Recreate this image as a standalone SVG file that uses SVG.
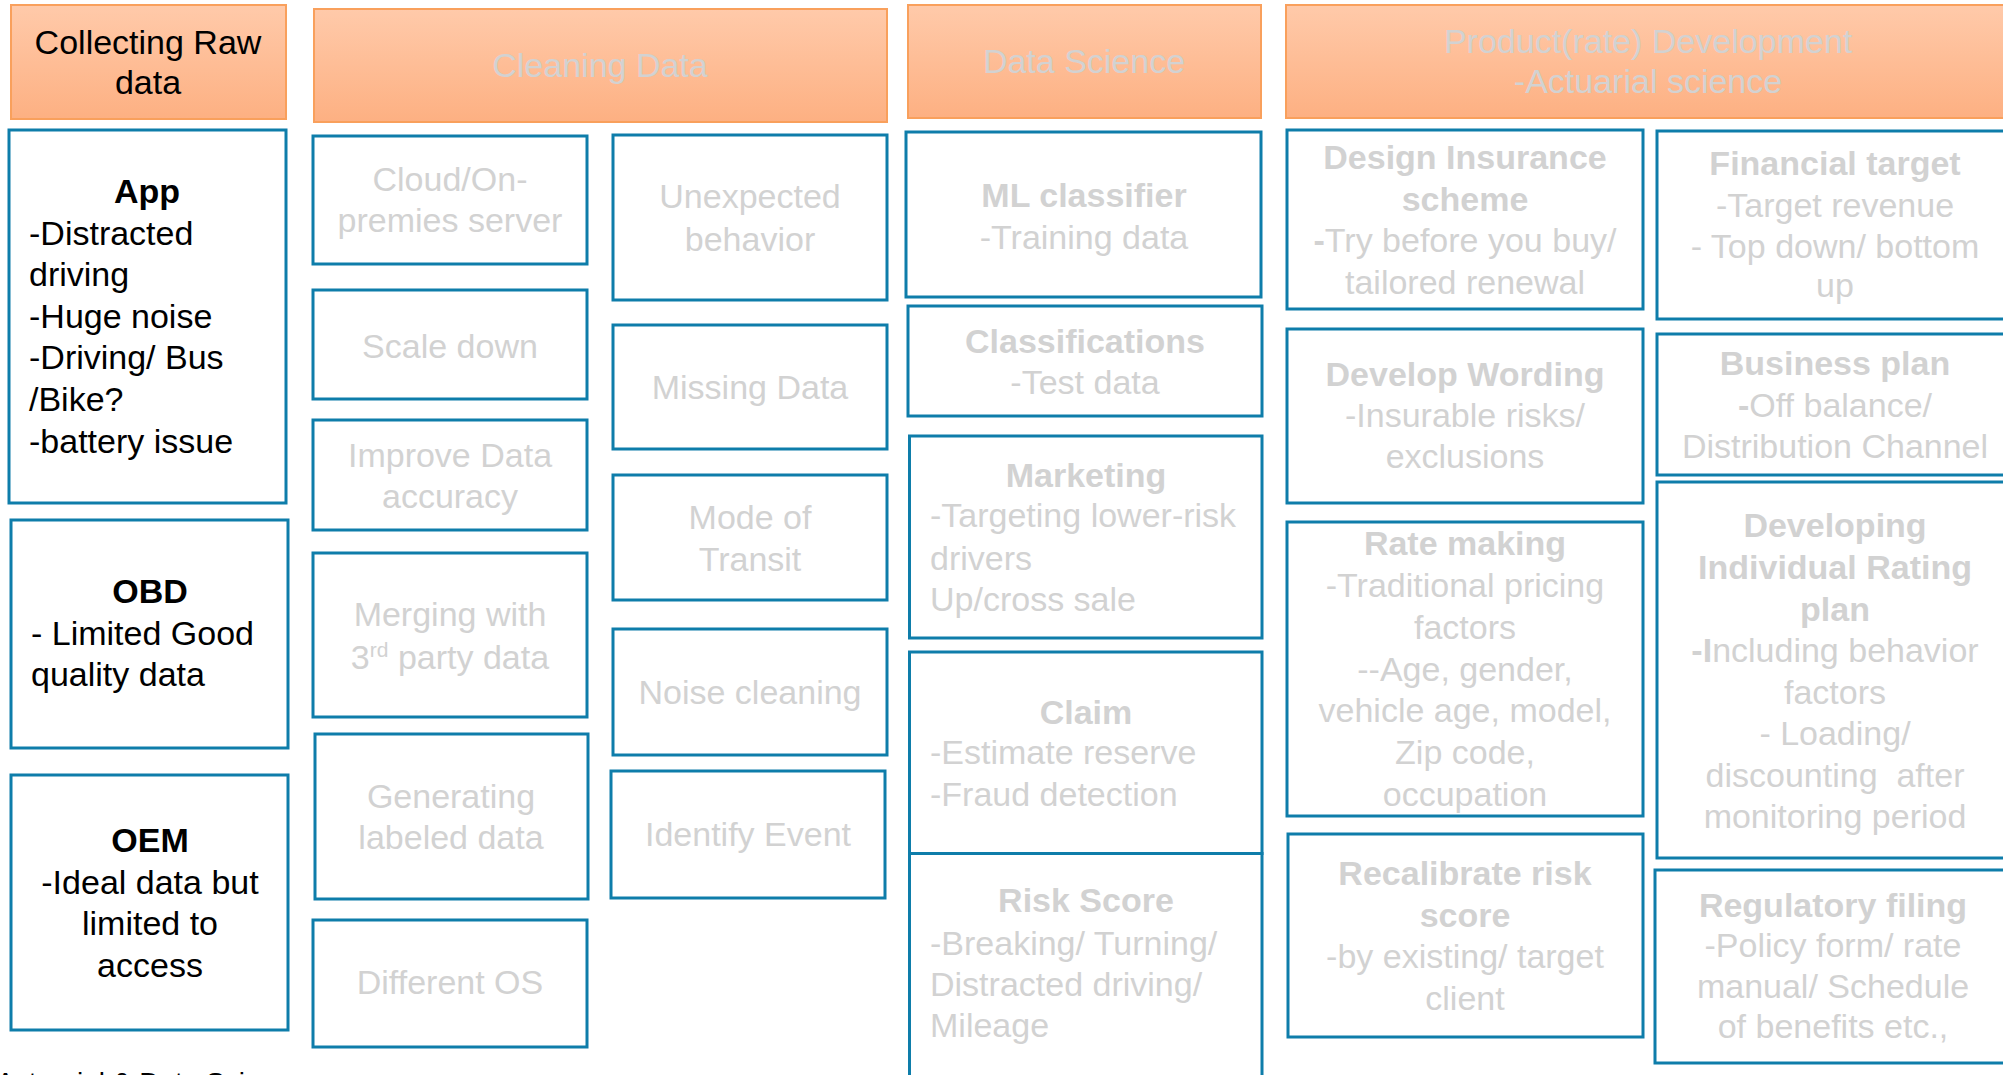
<svg xmlns="http://www.w3.org/2000/svg" width="2003" height="1075" viewBox="0 0 2003 1075">
<defs>
<linearGradient id="og" x1="0" y1="0" x2="0" y2="1">
<stop offset="0" stop-color="#FFCAAA"/>
<stop offset="1" stop-color="#FDB082"/>
</linearGradient>
</defs>
<style>
.hdr{fill:url(#og);stroke:#F9A05C;stroke-width:2}
.box{fill:#FFFFFF;stroke:#0E7DAA;stroke-width:3}
text{font-family:"Liberation Sans",Arial,sans-serif;font-size:34px;fill:#D2D2D2}
.k{fill:#000000}
.b{font-weight:bold}
.c{text-anchor:middle}
.sm{font-size:28px}
</style>
<rect x="0" y="0" width="2003" height="1075" fill="#FFFFFF"/>

<g id="hdr-collecting">
<rect class="hdr" x="11" y="5" width="275" height="114"/>
<text class="c k" x="148" y="54">Collecting Raw</text>
<text class="c k" x="148" y="94">data</text>
</g>
<g id="hdr-cleaning">
<rect class="hdr" x="314" y="9" width="573" height="113"/>
<text class="c" x="600" y="77">Cleaning Data</text>
</g>
<g id="hdr-datascience">
<rect class="hdr" x="908" y="5" width="353" height="113"/>
<text class="c" x="1084" y="73">Data Science</text>
</g>
<g id="hdr-product">
<rect class="hdr" x="1286" y="5" width="724" height="113"/>
<text class="c" x="1648" y="53">Product(rate) Development</text>
<text class="c" x="1648" y="93">-Actuarial science</text>
</g>

<g id="app">
<rect class="box" x="9" y="130" width="277" height="373"/>
<text class="c k b" x="147" y="203">App</text>
<text class="k" x="29" y="244.6">-Distracted</text>
<text class="k" x="29" y="286.2">driving</text>
<text class="k" x="29" y="327.8">-Huge noise</text>
<text class="k" x="29" y="369.4">-Driving/ Bus</text>
<text class="k" x="29" y="411">/Bike?</text>
<text class="k" x="29" y="452.6">-battery issue</text>
</g>
<g id="obd">
<rect class="box" x="11" y="520" width="277" height="228"/>
<text class="c k b" x="150" y="603">OBD</text>
<text class="k" x="31" y="645">- Limited Good</text>
<text class="k" x="31" y="686">quality data</text>
</g>
<g id="oem">
<rect class="box" x="11" y="775" width="277" height="255"/>
<text class="c k b" x="150" y="852">OEM</text>
<text class="c k" x="150" y="894">-Ideal data but</text>
<text class="c k" x="150" y="935">limited to</text>
<text class="c k" x="150" y="977">access</text>
</g>
<text class="k sm" x="-4" y="1092">Actuarial &amp; Data Science</text>

<g id="cloud">
<rect class="box" x="313" y="136" width="274" height="128"/>
<text class="c" x="450" y="191">Cloud/On-</text>
<text class="c" x="450" y="232">premies server</text>
</g>
<g id="scaledown">
<rect class="box" x="313" y="290" width="274" height="109"/>
<text class="c" x="450" y="358">Scale down</text>
</g>
<g id="improve">
<rect class="box" x="313" y="420" width="274" height="110"/>
<text class="c" x="450" y="467">Improve Data</text>
<text class="c" x="450" y="508">accuracy</text>
</g>
<g id="merging">
<rect class="box" x="313" y="553" width="274" height="164"/>
<text class="c" x="450" y="626">Merging with</text>
<text class="c" x="450" y="669">3<tspan style="font-size:21px" dy="-12">rd</tspan><tspan dy="12"> party data</tspan></text>
</g>
<g id="generating">
<rect class="box" x="315" y="734" width="273" height="165"/>
<text class="c" x="451" y="808">Generating</text>
<text class="c" x="451" y="849">labeled data</text>
</g>
<g id="differentos">
<rect class="box" x="313" y="920" width="274" height="127"/>
<text class="c" x="450" y="994">Different OS</text>
</g>

<g id="unexpected">
<rect class="box" x="613" y="135" width="274" height="165"/>
<text class="c" x="750" y="208">Unexpected</text>
<text class="c" x="750" y="251">behavior</text>
</g>
<g id="missing">
<rect class="box" x="613" y="325" width="274" height="124"/>
<text class="c" x="750" y="399">Missing Data</text>
</g>
<g id="mode">
<rect class="box" x="613" y="475" width="274" height="125"/>
<text class="c" x="750" y="529">Mode of</text>
<text class="c" x="750" y="571">Transit</text>
</g>
<g id="noise">
<rect class="box" x="613" y="629" width="274" height="126"/>
<text class="c" x="750" y="704">Noise cleaning</text>
</g>
<g id="identify">
<rect class="box" x="611" y="771" width="274" height="127"/>
<text class="c" x="748" y="846">Identify Event</text>
</g>

<g id="ml">
<rect class="box" x="906" y="132" width="355" height="165"/>
<text class="c b" x="1084" y="207">ML classifier</text>
<text class="c" x="1084" y="249">-Training data</text>
</g>
<g id="classifications">
<rect class="box" x="908" y="306" width="354" height="110"/>
<text class="c b" x="1085" y="353">Classifications</text>
<text class="c" x="1085" y="394">-Test data</text>
</g>
<g id="marketing">
<rect class="box" x="909.5" y="436" width="352.5" height="202"/>
<text class="c b" x="1086" y="487">Marketing</text>
<text x="930" y="527">-Targeting lower-risk</text>
<text x="930" y="569.5">drivers</text>
<text x="930" y="611">Up/cross sale</text>
</g>
<g id="claim">
<rect class="box" x="909.5" y="652" width="352.5" height="201.5"/>
<text class="c b" x="1086" y="723.5">Claim</text>
<text x="930" y="764">-Estimate reserve</text>
<text x="930" y="806">-Fraud detection</text>
</g>
<g id="riskscore">
<rect class="box" x="909.5" y="853.5" width="352.5" height="260"/>
<text class="c b" x="1086" y="912">Risk Score</text>
<text x="930" y="955">-Breaking/ Turning/</text>
<text x="930" y="995.5">Distracted driving/</text>
<text x="930" y="1037">Mileage</text>
</g>

<g id="design">
<rect class="box" x="1287" y="130" width="356" height="179"/>
<text class="c b" x="1465" y="169">Design Insurance</text>
<text class="c b" x="1465" y="210.5">scheme</text>
<text class="c" x="1465" y="252"><tspan class="b">-</tspan>Try before you buy/</text>
<text class="c" x="1465" y="293.5">tailored renewal</text>
</g>
<g id="wording">
<rect class="box" x="1287" y="329" width="356" height="174"/>
<text class="c b" x="1465" y="386">Develop Wording</text>
<text class="c" x="1465" y="427">-Insurable risks/</text>
<text class="c" x="1465" y="468">exclusions</text>
</g>
<g id="ratemaking">
<rect class="box" x="1287" y="522" width="356" height="294"/>
<text class="c b" x="1465" y="555">Rate making</text>
<text class="c" x="1465" y="597">-Traditional pricing</text>
<text class="c" x="1465" y="639">factors</text>
<text class="c" x="1465" y="680.5">--Age, gender,</text>
<text class="c" x="1465" y="722">vehicle age, model,</text>
<text class="c" x="1465" y="764">Zip code,</text>
<text class="c" x="1465" y="805.5">occupation</text>
</g>
<g id="recalibrate">
<rect class="box" x="1288" y="834" width="355" height="203"/>
<text class="c b" x="1465" y="885">Recalibrate risk</text>
<text class="c b" x="1465" y="927">score</text>
<text class="c" x="1465" y="968">-by existing/ target</text>
<text class="c" x="1465" y="1010">client</text>
</g>

<g id="financial">
<rect class="box" x="1657" y="131" width="356" height="188"/>
<text class="c b" x="1835" y="175">Financial target</text>
<text class="c" x="1835" y="216.7">-Target revenue</text>
<text class="c" x="1835" y="258">- Top down/ bottom</text>
<text class="c" x="1835" y="297">up</text>
</g>
<g id="business">
<rect class="box" x="1657" y="334" width="356" height="141"/>
<text class="c b" x="1835" y="375">Business plan</text>
<text class="c" x="1835" y="416.7"><tspan class="b">-</tspan>Off balance/</text>
<text class="c" x="1835" y="458">Distribution Channel</text>
</g>
<g id="individual">
<rect class="box" x="1657" y="482" width="356" height="376"/>
<text class="c b" x="1835" y="537">Developing</text>
<text class="c b" x="1835" y="579">Individual Rating</text>
<text class="c b" x="1835" y="620.5">plan</text>
<text class="c" x="1835" y="662"><tspan class="b">-I</tspan>ncluding behavior</text>
<text class="c" x="1835" y="703.5">factors</text>
<text class="c" x="1835" y="745">- Loading/</text>
<text class="c" x="1835" y="786.5">discounting&#160; after</text>
<text class="c" x="1835" y="828">monitoring period</text>
</g>
<g id="regulatory">
<rect class="box" x="1655" y="870" width="358" height="193"/>
<text class="c b" x="1833" y="917">Regulatory filing</text>
<text class="c" x="1833" y="957">-Policy form/ rate</text>
<text class="c" x="1833" y="998">manual/ Schedule</text>
<text class="c" x="1833" y="1038">of benefits etc.,</text>
</g>
</svg>
